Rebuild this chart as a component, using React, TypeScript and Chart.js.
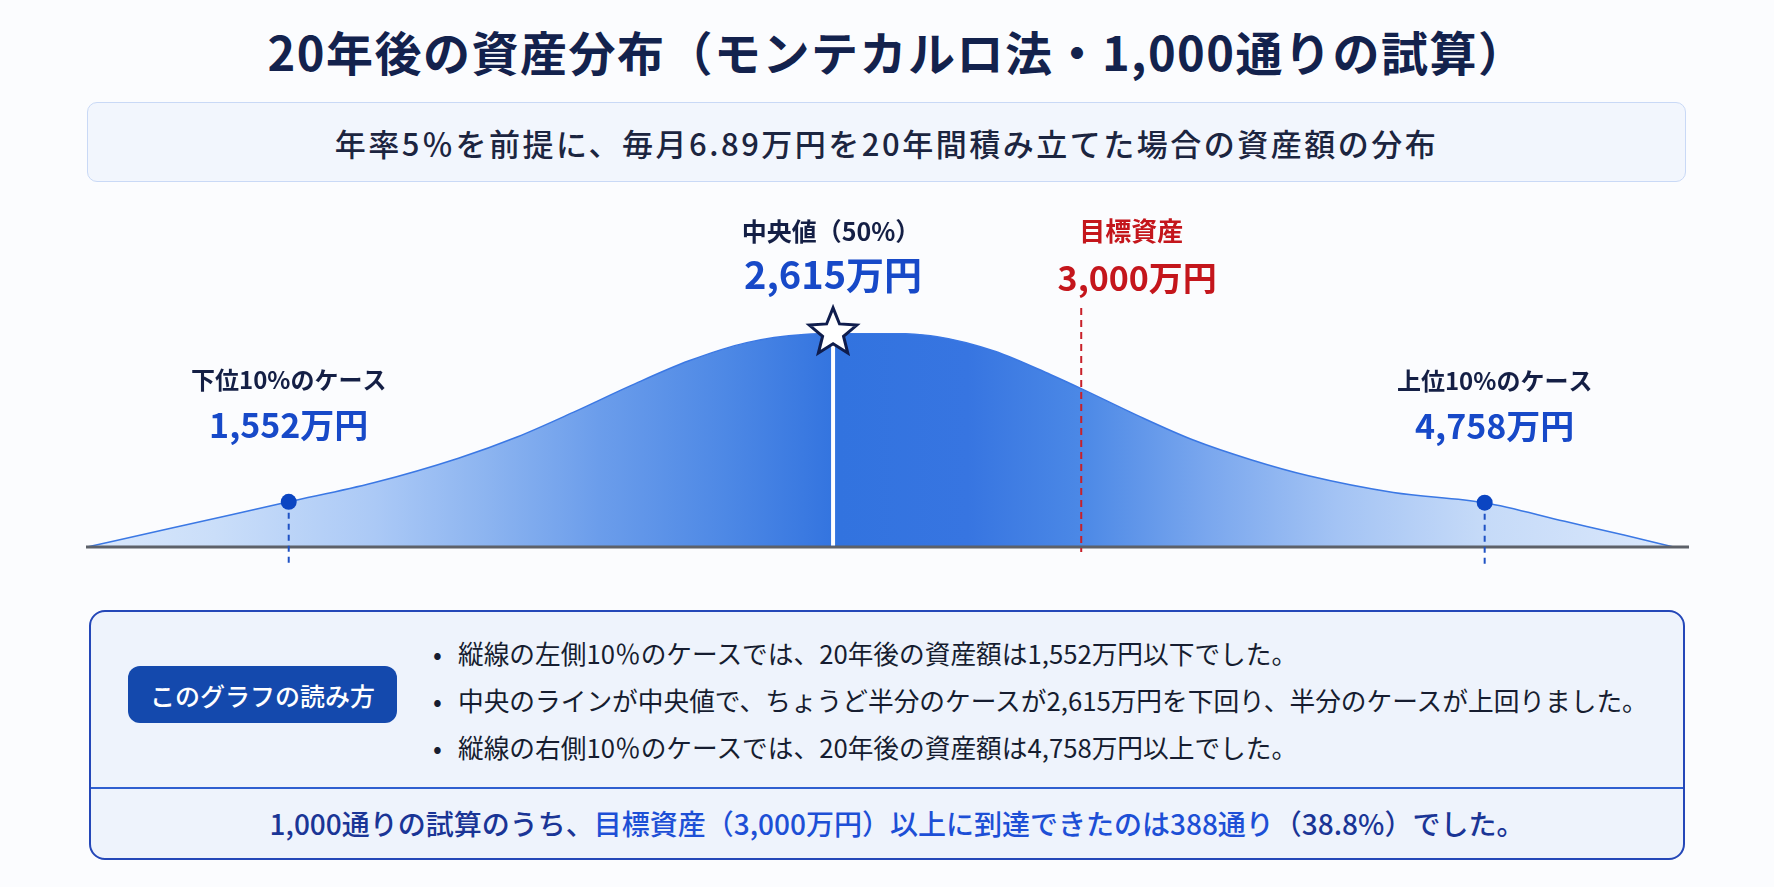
import React, { useEffect, useRef } from "react";
import { Chart, registerables } from "chart.js";

Chart.register(...registerables);

// ---- Data ----
// Stylised distribution curve: position along the axis (0-100) and relative frequency (0-100)
const curvePos = [0, 5.3, 12.6, 17.9, 23.2, 26.9, 30.4, 34.0, 37.6, 41.2, 44.8, 48.9, 53.1, 56.7, 60.2, 62.1, 65.6, 69.1, 72.7, 76.3, 81.6, 87.3, 92.3, 96.0, 99.1];
const curveDensity = [0, 8.9, 21.1, 30.0, 41.5, 51.5, 63.0, 75.5, 87.0, 95.5, 99.3, 100, 98.3, 91.5, 80.5, 74.0, 61.5, 50.0, 40.8, 33.3, 25.5, 20.7, 12.0, 5.6, 0];

// Markers: lower 10%, median, target, upper 10%
const markerPos = [12.6, 46.6, 62.1, 87.3];
const markerTitles = ["下位10%のケース", "中央値（50%）", "目標資産", "上位10%のケース"];
const markerValues = [1552, 2615, 3000, 4758];
const unit = "万円";

const titleText = "20年後の資産分布（モンテカルロ法・1,000通りの試算）";
const subtitleText = "年率5％を前提に、毎月6.89万円を20年間積み立てた場合の資産額の分布";
const howToRead = "このグラフの読み方";
const bullets = [
  "縦線の左側10％のケースでは、20年後の資産額は1,552万円以下でした。",
  "中央のラインが中央値で、ちょうど半分のケースが2,615万円を下回り、半分のケースが上回りました。",
  "縦線の右側10％のケースでは、20年後の資産額は4,758万円以上でした。",
];
const summaryParts = [
  "1,000通りの試算のうち、",
  "目標資産（3,000万円）以上に到達できたのは388通り",
  "（38.8%）でした。",
];

const FONT = '"Noto Sans CJK JP", "Noto Sans", sans-serif';

function densityAt(p: number) {
  for (let i = 0; i < curvePos.length - 1; i++) {
    if (p >= curvePos[i] && p <= curvePos[i + 1]) {
      const t = (p - curvePos[i]) / (curvePos[i + 1] - curvePos[i]);
      return curveDensity[i] + t * (curveDensity[i + 1] - curveDensity[i]);
    }
  }
  return 0;
}

function drawStar(ctx: CanvasRenderingContext2D, cx: number, cy: number, R: number, r: number) {
  ctx.beginPath();
  for (let i = 0; i < 10; i++) {
    const rad = i % 2 === 0 ? R : r;
    const a = -Math.PI / 2 + (i * Math.PI) / 5;
    const px = cx + rad * Math.cos(a);
    const py = cy + rad * Math.sin(a);
    if (i === 0) ctx.moveTo(px, py);
    else ctx.lineTo(px, py);
  }
  ctx.closePath();
}

const overlayPlugin = {
  id: "overlay",
  afterDatasetsDraw(chart: any) {
    const { ctx, chartArea, scales } = chart;
    const xs = scales.x;
    const ys = scales.y;
    const base = ys.getPixelForValue(0);
    const top = chartArea.top;
    ctx.save();

    // baseline
    ctx.strokeStyle = "#5d6169";
    ctx.lineWidth = 3;
    ctx.beginPath();
    ctx.moveTo(chartArea.left - 1, base);
    ctx.lineTo(chartArea.right + 1, base);
    ctx.stroke();

    const [pLow, pMed, pTarget, pHigh] = markerPos;

    // median white line + star
    const mx = xs.getPixelForValue(pMed);
    const my = ys.getPixelForValue(densityAt(pMed)) - 1;
    ctx.strokeStyle = "#ffffff";
    ctx.lineWidth = 4;
    ctx.beginPath();
    ctx.moveTo(mx, my);
    ctx.lineTo(mx, base - 1.5);
    ctx.stroke();
    drawStar(ctx, mx, my, 25, 11);
    ctx.fillStyle = "#ffffff";
    ctx.fill();
    ctx.strokeStyle = "#0f1d4d";
    ctx.lineWidth = 3;
    ctx.lineJoin = "miter";
    ctx.stroke();

    // target dashed red line
    const tx = xs.getPixelForValue(pTarget);
    ctx.strokeStyle = "#c8202a";
    ctx.lineWidth = 2;
    ctx.setLineDash([7, 5]);
    ctx.beginPath();
    ctx.moveTo(tx, top - 25);
    ctx.lineTo(tx, base + 5);
    ctx.stroke();

    // percentile dots with dashed drop lines
    [pLow, pHigh].forEach((p) => {
      const px = xs.getPixelForValue(p);
      const py = ys.getPixelForValue(densityAt(p));
      ctx.strokeStyle = "#1f52c4";
      ctx.lineWidth = 2;
      ctx.setLineDash([6, 5]);
      ctx.beginPath();
      ctx.moveTo(px, py);
      ctx.lineTo(px, base + 20);
      ctx.stroke();
      ctx.setLineDash([]);
      ctx.fillStyle = "#0b45c2";
      ctx.beginPath();
      ctx.arc(px, py, 8, 0, Math.PI * 2);
      ctx.fill();
    });
    ctx.setLineDash([]);

    // labels
    ctx.textAlign = "center";
    ctx.textBaseline = "middle";
    const fmt = (v: number) => v.toLocaleString("ja-JP") + unit;

    // lower & upper
    [0, 3].forEach((i) => {
      const px = xs.getPixelForValue(markerPos[i]) + (i === 3 ? 10 : 0);
      const py = ys.getPixelForValue(densityAt(markerPos[i]));
      ctx.fillStyle = "#141f45";
      ctx.font = `bold 24px ${FONT}`;
      ctx.fillText(markerTitles[i], px, py - 122);
      ctx.fillStyle = "#1749c8";
      ctx.font = `bold 34px ${FONT}`;
      ctx.fillText(fmt(markerValues[i]), px, py - 77);
    });

    // median
    ctx.fillStyle = "#141f45";
    ctx.font = `bold 25px ${FONT}`;
    ctx.fillText(markerTitles[1], mx - 2, top - 102);
    ctx.fillStyle = "#1749c8";
    ctx.font = `bold 38px ${FONT}`;
    ctx.fillText(fmt(markerValues[1]), mx, top - 58);

    // target
    ctx.fillStyle = "#c4161c";
    ctx.font = `bold 26px ${FONT}`;
    ctx.fillText(markerTitles[2], tx + 50, top - 102);
    ctx.font = `bold 34px ${FONT}`;
    ctx.fillText(fmt(markerValues[2]), tx + 56, top - 55);

    ctx.restore();
  },
};

export default function App() {
  const ref = useRef<HTMLCanvasElement>(null);

  useEffect(() => {
    if (!ref.current) return;
    const chart = new Chart(ref.current, {
      type: "line",
      data: {
        datasets: [
          {
            data: curvePos.map((p, i) => ({ x: p, y: curveDensity[i] })),
            fill: "origin",
            borderColor: "#3b78e4",
            borderWidth: 1.5,
            pointRadius: 0,
            cubicInterpolationMode: "monotone",
            backgroundColor: (c: any) => {
              const area = c.chart.chartArea;
              if (!area) return "#4a86e5";
              const g = c.chart.ctx.createLinearGradient(area.left, 0, area.right, 0);
              g.addColorStop(0, "#dae8fc");
              g.addColorStop(0.08, "#cadef9");
              g.addColorStop(0.18, "#abc9f6");
              g.addColorStop(0.25, "#8cb4f0");
              g.addColorStop(0.32, "#6b9deb");
              g.addColorStop(0.4, "#4d88e5");
              g.addColorStop(0.47, "#3273df");
              g.addColorStop(0.55, "#3775e1");
              g.addColorStop(0.62, "#4b88e6");
              g.addColorStop(0.7, "#7aa7ee");
              g.addColorStop(0.78, "#a3c3f4");
              g.addColorStop(0.87, "#c5daf8");
              g.addColorStop(1, "#dce9fc");
              return g;
            },
          },
        ],
      },
      options: {
        responsive: false,
        animation: false,
        devicePixelRatio: 1,
        events: [],
        layout: { padding: { left: 87, right: 86, top: 143, bottom: 43 } },
        scales: {
          x: { type: "linear", min: 0, max: 100, display: false },
          y: { min: 0, max: 100, display: false },
        },
        plugins: { legend: { display: false }, tooltip: { enabled: false } },
      },
      plugins: [overlayPlugin],
    } as any);
    return () => chart.destroy();
  }, []);

  return (
    <div
      style={{
        position: "absolute",
        left: 0,
        top: 0,
        width: 1774,
        height: 887,
        background: "#fbfcfe",
        fontFamily: FONT,
        overflow: "hidden",
      }}
    >
      <div
        style={{
          position: "absolute",
          left: 10,
          top: 21,
          width: 1774,
          height: 60,
          lineHeight: "60px",
          textAlign: "center",
          fontSize: 47,
          fontWeight: 700,
          letterSpacing: 1.5,
          color: "#13224d",
        }}
      >
        {titleText}
      </div>

      <div
        style={{
          position: "absolute",
          left: 87,
          top: 102,
          width: 1599,
          height: 80,
          boxSizing: "border-box",
          border: "1.5px solid #c9d9f6",
          borderRadius: 10,
          background: "#f2f6fd",
          display: "flex",
          alignItems: "center",
          justifyContent: "center",
          fontSize: 31,
          fontWeight: 500,
          letterSpacing: 2.5,
          color: "#1c2540",
        }}
      >
        {subtitleText}
      </div>

      <canvas
        ref={ref}
        width={1774}
        height={400}
        style={{ position: "absolute", left: 0, top: 190, width: 1774, height: 400 }}
      />

      <div
        style={{
          position: "absolute",
          left: 89,
          top: 610,
          width: 1596,
          height: 250,
          boxSizing: "border-box",
          border: "2px solid #2447b8",
          borderRadius: 16,
          background: "#eef3fc",
          overflow: "hidden",
        }}
      >
        <div
          style={{
            position: "absolute",
            left: 37,
            top: 54,
            width: 269,
            height: 57,
            borderRadius: 12,
            background: "#1449ad",
            color: "#ffffff",
            fontSize: 25,
            fontWeight: 500,
            display: "flex",
            alignItems: "center",
            justifyContent: "center",
          }}
        >
          {howToRead}
        </div>
        {bullets.map((b, i) => (
          <div
            key={i}
            style={{
              position: "absolute",
              left: 342,
              top: [41, 88, 135][i] - 20,
              height: 40,
              lineHeight: "40px",
              fontSize: 25.7,
              color: "#161d30",
              whiteSpace: "nowrap",
            }}
          >
            <span style={{ display: "inline-block", width: 25, textAlign: "left", fontSize: 26 }}>•</span>
            {b}
          </div>
        ))}
        <div
          style={{
            position: "absolute",
            left: 0,
            top: 175,
            width: "100%",
            height: 2,
            background: "#2f5fd0",
          }}
        />
        <div
          style={{
            position: "absolute",
            left: 10,
            top: 177,
            width: "100%",
            height: 69,
            lineHeight: "69px",
            textAlign: "center",
            fontSize: 28,
            fontWeight: 500,
            whiteSpace: "nowrap",
          }}
        >
          <span style={{ color: "#1a3596" }}>{summaryParts[0]}</span>
          <span style={{ color: "#1d4fd6" }}>{summaryParts[1]}</span>
          <span style={{ color: "#1a3596" }}>{summaryParts[2]}</span>
        </div>
      </div>
    </div>
  );
}
